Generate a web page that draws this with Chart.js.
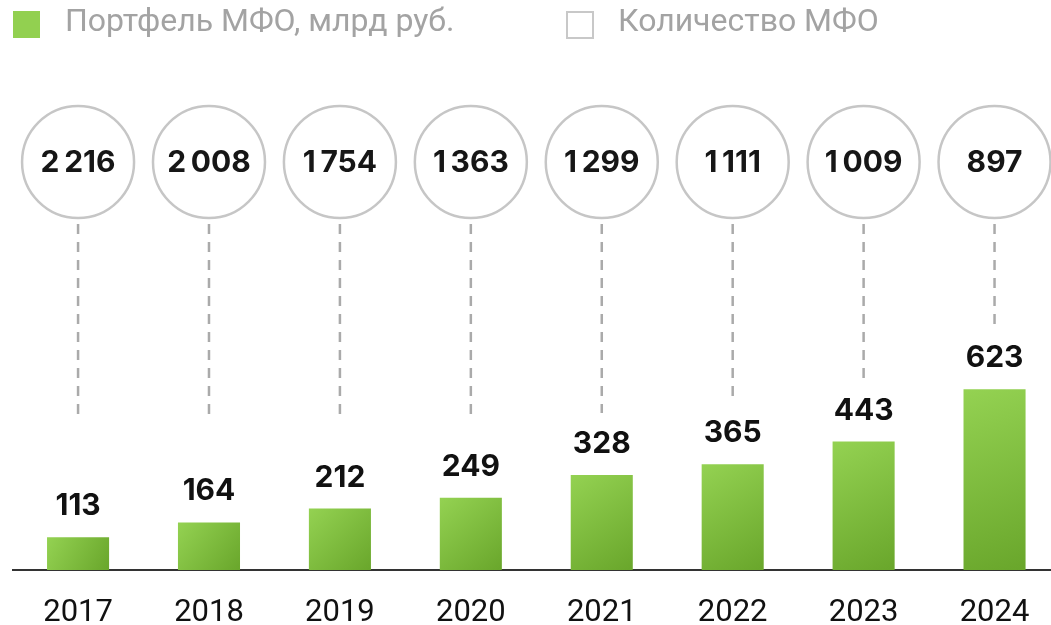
<!DOCTYPE html>
<html>
<head>
<meta charset="utf-8">
<script src="https://cdn.jsdelivr.net/npm/chart.js@4"></script>
<style>
    html, body { margin: 0; padding: 0; background: #fff; overflow: hidden; }
    #wrap { position: relative; width: 1060px; height: 625px; }
</style>
</head>
<body>
<div id="wrap"><canvas id="mfoChart"></canvas></div>
<script>
// Data
const years = ['2017', '2018', '2019', '2020', '2021', '2022', '2023', '2024'];
const portfolio = [113, 164, 212, 249, 328, 365, 443, 623];
const mfoCount = [2216, 2008, 1754, 1363, 1299, 1111, 1009, 897];
const portfolioLabel = 'Портфель МФО, млрд руб.';
const countLabel = 'Количество МФО';

function formatNum(v) {
    return String(v).replace(/\B(?=(\d{3})+(?!\d))/g, '\u2009');
}

function barGradient(context) {
    const chart = context.chart;
    const xs = chart.scales.x, ys = chart.scales.y;
    if (!xs || !ys || context.dataIndex === undefined) return '#8cc84b';
    const x = xs.getPixelForValue(context.dataIndex);
    const half = 31;
    const top = ys.getPixelForValue(portfolio[context.dataIndex]);
    const bottom = ys.getPixelForValue(0);
    if (![x, top, bottom].every(Number.isFinite)) return '#8cc84b';
    const g = chart.ctx.createLinearGradient(x - half, top, x + half, bottom);
    g.addColorStop(0, '#94d252');
    g.addColorStop(1, '#69a62b');
    return g;
}

// legend drawn by hand
const legendPlugin = {
    id: 'mfoLegend',
    afterDraw(chart) {
        const ctx = chart.ctx;
        ctx.save();
        ctx.fillStyle = '#92d050';
        ctx.fillRect(13, 11, 27, 27);
        ctx.strokeStyle = '#c8c8c8';
        ctx.lineWidth = 2;
        ctx.strokeRect(567, 12, 26, 26);
        ctx.fillStyle = '#a3a3a3';
        ctx.font = '32px Roboto';
        ctx.textBaseline = 'middle';
        ctx.textAlign = 'left';
        ctx.fillText(chart.data.datasets[0].label, 65, 23);
        ctx.fillText(chart.data.datasets[1].label, 618, 23);
        ctx.restore();
    }
};

// circles with counts + dashed connectors, values over bars
const circlesPlugin = {
    id: 'mfoCircles',
    afterDatasetsDraw(chart) {
        const ctx = chart.ctx;
        const xs = chart.scales.x;
        const counts = chart.data.datasets[1].data;
        const bars = chart.getDatasetMeta(0).data;
        const cy = 162, r = 56;
        ctx.save();
        counts.forEach((c, i) => {
            const x = xs.getPixelForValue(i);
            const barTop = bars[i].y;
            // dashed line
            ctx.beginPath();
            ctx.setLineDash([10, 8]);
            ctx.strokeStyle = '#aaaaaa';
            ctx.lineWidth = 2.5;
            ctx.moveTo(x, cy + r + 6);
            ctx.lineTo(x, Math.min(415, barTop - 62));
            ctx.stroke();
            ctx.setLineDash([]);
            // circle
            ctx.beginPath();
            ctx.arc(x, cy, r, 0, Math.PI * 2);
            ctx.fillStyle = '#fff';
            ctx.fill();
            ctx.strokeStyle = '#c6c6c6';
            ctx.lineWidth = 2.5;
            ctx.stroke();
            ctx.fillStyle = '#161616';
            ctx.font = 'bold 30px Inter';
            ctx.textAlign = 'center';
            ctx.textBaseline = 'middle';
            ctx.fillText(formatNum(c), x, cy + 1);
            // bar value
            ctx.fillStyle = '#111';
            ctx.textBaseline = 'alphabetic';
            ctx.fillText(formatNum(portfolio[i]), bars[i].x, barTop - 22);
        });
        ctx.restore();
    }
};

const ctx = document.getElementById('mfoChart');
new Chart(ctx, {
    type: 'bar',
    data: {
        labels: years,
        datasets: [{
            label: portfolioLabel,
            data: portfolio,
            backgroundColor: barGradient,
            barPercentage: 0.474,
            categoryPercentage: 1
        }, {
            type: 'line',
            label: countLabel,
            data: mfoCount,
            yAxisID: 'yc',
            showLine: false,
            pointRadius: 0,
            borderColor: '#c8c8c8',
            backgroundColor: '#fff'
        }]
    },
    options: {
        responsive: true,
        maintainAspectRatio: false,
        animation: false,
        layout: { padding: { left: 12.6, right: 0, top: 0, bottom: 0 } },
        plugins: {
            legend: { display: false },
            tooltip: { enabled: false }
        },
        scales: {
            x: {
                grid: { display: false },
                border: { display: true, color: '#333', width: 2 },
                ticks: {
                    color: '#111',
                    padding: 17,
                    font: { family: 'Roboto', size: 31 }
                },
                afterFit(scale) { scale.height = 55; }
            },
            y: {
                display: false,
                min: 0,
                max: 1966
            },
            yc: {
                display: false,
                min: 0,
                max: 3000
            }
        }
    },
    plugins: [legendPlugin, circlesPlugin]
});
</script>
</body>
</html>
